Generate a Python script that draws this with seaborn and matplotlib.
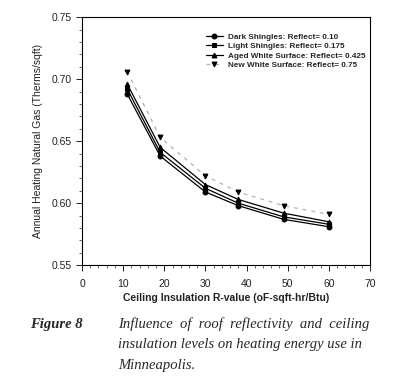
import pandas as pd
import matplotlib
matplotlib.use('Agg')
import matplotlib.pyplot as plt
import seaborn as sns
from matplotlib.ticker import MultipleLocator

# Ceiling R-values and annual heating gas use (therms/sqft)
r_values = [11, 19, 30, 38, 49, 60]
dark_shingles = [0.688, 0.638, 0.609, 0.598, 0.587, 0.581]
light_shingles = [0.692, 0.641, 0.612, 0.600, 0.589, 0.583]
aged_white = [0.696, 0.645, 0.615, 0.603, 0.592, 0.585]
new_white = [0.706, 0.653, 0.622, 0.609, 0.598, 0.591]

labels = ['Dark Shingles: Reflect= 0.10',
          'Light Shingles: Reflect= 0.175',
          'Aged White Surface: Reflect= 0.425',
          'New White Surface: Reflect= 0.75']

series = [dark_shingles, light_shingles, aged_white, new_white]
rows = []
for lab, vals in zip(labels, series):
    for r, v in zip(r_values, vals):
        rows.append({'R': r, 'Gas': v, 'Surface': lab})
df = pd.DataFrame(rows)

sns.set_style('ticks')
plt.rcParams['font.family'] = ['Liberation Sans', 'DejaVu Sans']

fig = plt.figure(figsize=(4.0, 3.9), dpi=100)
ax = fig.add_axes([0.205, 0.32, 0.72, 0.636])

markers = {labels[0]: 'o', labels[1]: 's', labels[2]: '^', labels[3]: 'v'}
dashes = {labels[0]: '', labels[1]: '', labels[2]: '', labels[3]: (3, 4)}
palette = {labels[0]: 'black', labels[1]: 'black', labels[2]: 'black', labels[3]: '#b0b0b0'}

sns.lineplot(data=df, x='R', y='Gas', hue='Surface', style='Surface',
             markers=markers, dashes=dashes, palette=palette,
             markersize=3.5, linewidth=0.9, markeredgecolor='black',
             ax=ax)
for ln in ax.lines:
    ln.set_markerfacecolor('black')
    ln.set_markeredgecolor('black')

ax.set_xlim(0, 70)
ax.set_ylim(0.55, 0.75)
ax.xaxis.set_major_locator(MultipleLocator(10))
ax.xaxis.set_minor_locator(MultipleLocator(2))
ax.yaxis.set_major_locator(MultipleLocator(0.05))
ax.yaxis.set_minor_locator(MultipleLocator(0.01))
ax.yaxis.set_major_formatter(matplotlib.ticker.FormatStrFormatter('%.2f'))
ax.tick_params(which='major', length=4, width=0.7, labelsize=7.5, colors='#222222')
ax.tick_params(which='minor', length=2, width=0.5)
ax.tick_params(axis='x', pad=6)
for sp in ax.spines.values():
    sp.set_linewidth(0.8)
    sp.set_color('black')

ax.set_xlabel('Ceiling Insulation R-value (oF-sqft-hr/Btu)', fontsize=7.5,
              fontweight='bold', color='#222222', labelpad=3)
ax.set_ylabel('Annual Heating Natural Gas (Therms/sqft)', fontsize=7.5,
              color='#222222', labelpad=6)

handles, hl = ax.get_legend_handles_labels()
leg = ax.legend(handles, hl, loc='upper right', bbox_to_anchor=(1.0, 0.955),
                frameon=False, fontsize=5.9, handlelength=2.0,
                labelspacing=0.2, handletextpad=0.6, borderaxespad=0.2)
for t in leg.get_texts():
    t.set_fontweight('bold')

# Caption below the chart
fig.text(0.075, 0.16, 'Figure 8', fontsize=10.5, fontweight='bold', style='italic',
         family='Liberation Serif', va='baseline')
caption = ['Influence  of  roof  reflectivity  and  ceiling',
           'insulation levels on heating energy use in',
           'Minneapolis.']
for i, line in enumerate(caption):
    fig.text(0.295, 0.16 - i * 0.053, line, fontsize=10.5, style='italic',
             family='Liberation Serif', va='baseline')

fig.savefig('out.png', dpi=100)
